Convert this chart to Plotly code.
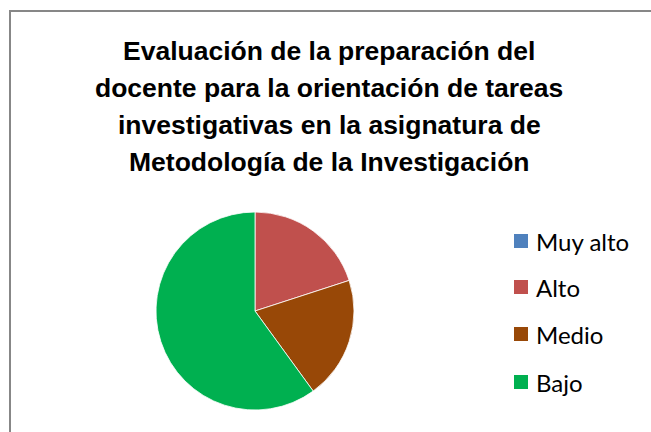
import plotly.graph_objects as go

W, H = 651, 432

labels = ["Muy alto", "Alto", "Medio", "Bajo"]
values = [0, 1, 1, 3]
colors = ["#4F81BD", "#C0504D", "#984807", "#00B050"]
title_lines = [
    "Evaluación de la preparación del",
    "docente para la orientación de tareas",
    "investigativas en la asignatura de",
    "Metodología de la Investigación",
]

cx, cy, r = 255, 311, 99

fig = go.Figure(go.Pie(
    labels=labels, values=values, sort=False, direction="clockwise", rotation=0,
    marker=dict(colors=colors, line=dict(color="white", width=0.8)),
    textinfo="none", hoverinfo="label+value", showlegend=False,
    domain=dict(x=[(cx - r) / W, (cx + r) / W], y=[1 - (cy + r) / H, 1 - (cy - r) / H]),
))

annotations = []
title_y = [51, 88, 125, 162]
for line, ty in zip(title_lines, title_y):
    annotations.append(dict(
        text="<b>" + line + "</b>", x=329 / W, y=1 - ty / H, xref="paper", yref="paper",
        xanchor="center", yanchor="middle", showarrow=False,
        font=dict(family="Liberation Sans Narrow, Arial Narrow, Liberation Sans, Arial", size=26.5, color="#000000"),
    ))
shapes = [dict(type="rect", xref="paper", yref="paper", x0=10 / W, x1=1.05, y0=-0.05, y1=1 - 11 / H,
               line=dict(color="#878787", width=2), fillcolor="rgba(0,0,0,0)")]

ys = [241, 287, 334, 382]
for lab, col, yy in zip(labels, colors, ys):
    shapes.append(dict(type="rect", xref="paper", yref="paper", x0=514 / W, x1=528 / W,
                       y0=1 - (yy + 7) / H, y1=1 - (yy - 7) / H, line=dict(width=0), fillcolor=col))
    annotations.append(dict(text=lab, x=534 / W, y=1 - yy / H, xref="paper", yref="paper",
                            xanchor="left", yanchor="middle", showarrow=False,
                            font=dict(family="Lato, Open Sans, sans-serif", size=24, color="#000000")))

fig.update_layout(
    width=W, height=H, margin=dict(l=0, r=0, t=0, b=0),
    paper_bgcolor="white", plot_bgcolor="white",
    annotations=annotations, shapes=shapes,
)
fig.write_html("out.html", config={"displayModeBar": False},
               post_script="document.body.style.margin='0';document.body.style.overflow='hidden';")
